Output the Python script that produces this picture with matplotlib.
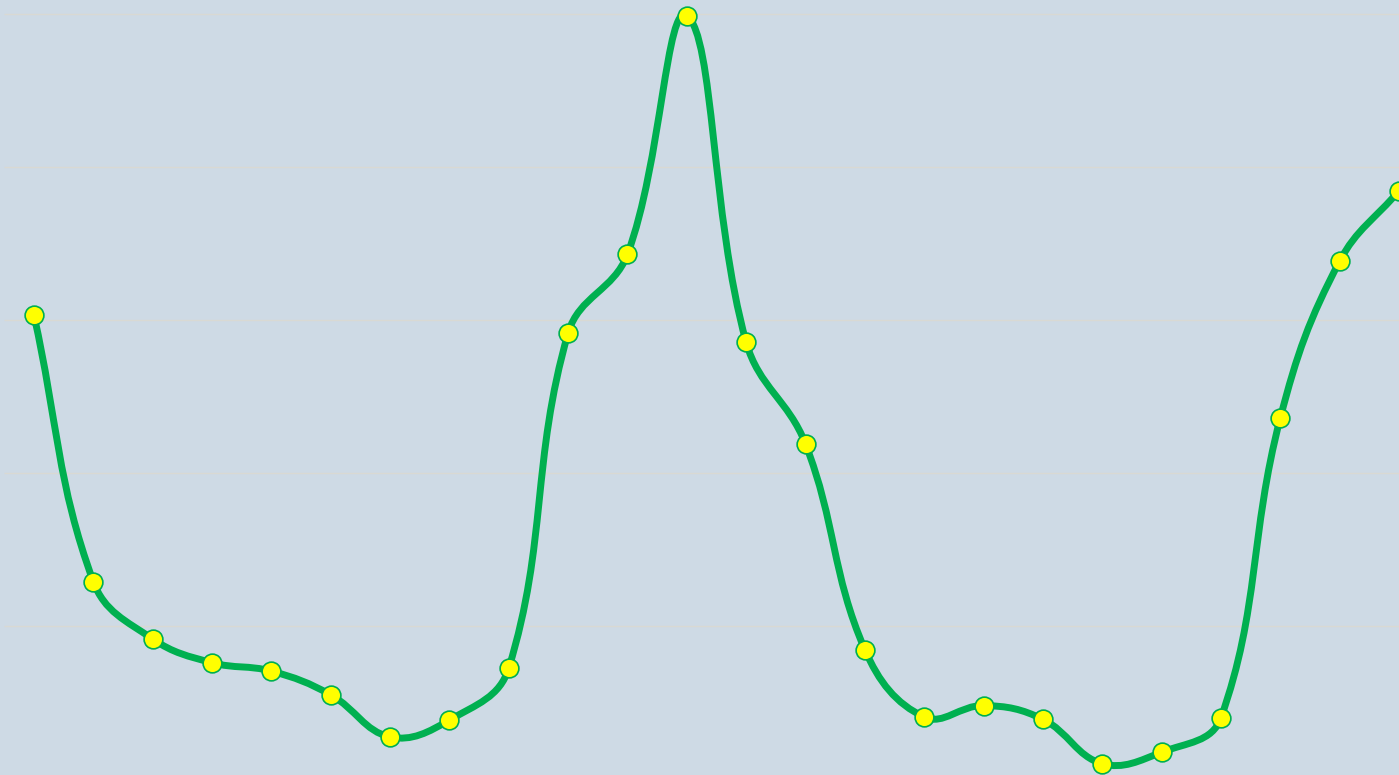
import numpy as np
import matplotlib
matplotlib.use("Agg")
import matplotlib.pyplot as plt
from matplotlib.path import Path
from matplotlib.patches import PathPatch

# values
values = [30.3, 12.9, 9.15, 7.6, 7.05, 5.5, 2.75, 3.85, 7.25, 29.15, 34.3, 49.9,
          28.55, 21.9, 8.45, 4.05, 4.8, 3.9, 1.0, 1.75, 4.0, 23.6, 33.85, 38.45]
y_ticks = [10, 20, 30, 40, 50]

bg = '#cedae5'
line_col = '#00b050'

# pixels per unit, used only to weight the spline handles
sx, sy = 59.35, 15.3


def spline_path(xs, ys, tension=0.4):
    # cubic bezier through the points, handle lengths weighted by distance
    n = len(xs)
    pts = np.column_stack([xs, ys]).astype(float)
    scale = np.array([sx, sy])
    cin, cout = pts.copy(), pts.copy()
    for i in range(n):
        prev = pts[max(i - 1, 0)]
        nxt = pts[min(i + 1, n - 1)]
        cur = pts[i]
        d01 = np.hypot(*((cur - prev) * scale))
        d12 = np.hypot(*((nxt - cur) * scale))
        tot = d01 + d12
        s01 = d01 / tot if tot else 0
        s12 = d12 / tot if tot else 0
        cin[i] = cur - tension * s01 * (nxt - prev)
        cout[i] = cur + tension * s12 * (nxt - prev)
    verts = [tuple(pts[0])]
    codes = [Path.MOVETO]
    for i in range(1, n):
        verts += [tuple(cout[i - 1]), tuple(cin[i]), tuple(pts[i])]
        codes += [Path.CURVE4] * 3
    return Path(verts, codes)


x = np.arange(len(values))

fig = plt.figure(figsize=(13.99, 7.75), dpi=100)
fig.patch.set_facecolor(bg)
ax = fig.add_axes([0, 0, 1, 1])
ax.set_facecolor(bg)

ax.hlines(y_ticks, -0.5, len(values) - 0.5, colors='#d9d9d3', lw=1, zorder=1)

ax.add_patch(PathPatch(spline_path(x, values), fill=False, edgecolor=line_col,
                       lw=5, capstyle='round', joinstyle='round', zorder=2))
ax.plot(x, values, ls='none', marker='o', ms=13.5, mfc='#ffff00',
        mec=line_col, mew=1.2, zorder=3)

ax.set_xlim(-34 / 59.35, len(values) - 1)
ax.set_ylim(0.26, 50.92)
ax.axis('off')

fig.savefig('out.png', dpi=100, facecolor=bg)
